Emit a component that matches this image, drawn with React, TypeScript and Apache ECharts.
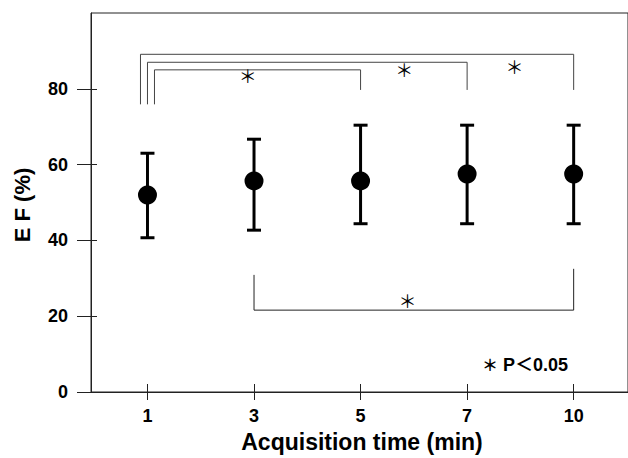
import React, { useEffect, useRef } from "react";
import * as echarts from "echarts";

// ---- data ----
const categories = ["1", "3", "5", "7", "10"];
const efMean = [52.0, 55.7, 55.7, 57.5, 57.5];
const efLow = [40.7, 42.7, 44.4, 44.4, 44.4];
const efHigh = [63.0, 66.7, 70.4, 70.4, 70.4];
const yTicks = [0, 20, 40, 60, 80];

// brackets: [fromIndex, toIndex, barY, leftEndY, rightEndY]
const topBrackets = [
  [0, 4, 89.1, 75.9, 79.7],
  [0, 3, 87.0, 75.9, 79.7],
  [0, 2, 85.0, 75.9, 79.7],
];
const bottomBrackets = [[1, 4, 21.6, 30.9, 32.5]];
// significance marks: [x position (category index units), y value]
const starMarks = [
  [0.94, 83.6],
  [2.41, 85.2],
  [3.445, 85.9],
  [2.44, 24.3],
];

const FONT = "'Liberation Sans', Arial, sans-serif";
const MIXED = "'Liberation Sans', 'Noto Sans CJK SC', sans-serif";
const CJK = "'Noto Sans CJK SC', 'Liberation Sans', sans-serif";

export default function App() {
  const ref = useRef<HTMLDivElement>(null);
  useEffect(() => {
    if (!ref.current) return;
    const chart = echarts.init(ref.current, null, { renderer: "svg" });
    const idx = categories.map((_, i) => i);
    const xCommon = {
      type: "value",
      min: -0.53,
      max: 4.51,
      splitLine: { show: false },
    };
    const yCommon = {
      type: "value",
      min: 0,
      max: 100,
      splitLine: { show: false },
    };
    const lineStyle = { color: "#222", width: 1 };
    const option: any = {
      animation: false,
      grid: {
        left: 91,
        top: 13,
        right: -5,
        bottom: 66,
        show: true,
        borderColor: "#222",
        borderWidth: 1,
      },
      xAxis: [
        {
          ...xCommon,
          axisLine: { show: true, onZero: false, lineStyle },
          axisTick: { show: true, customValues: idx, length: 8, lineStyle },
          axisLabel: {
            customValues: idx,
            formatter: (v: number) => categories[Math.round(v)] ?? "",
            fontFamily: FONT,
            fontWeight: "bold",
            fontSize: 18,
            color: "#000",
            margin: 15,
          },
        },
        {
          ...xCommon,
          position: "bottom",
          axisLine: { show: false, onZero: false },
          axisTick: { show: true, inside: true, customValues: idx, length: 8, lineStyle },
          axisLabel: { show: false },
        },
      ],
      yAxis: [
        {
          ...yCommon,
          axisLine: { show: true, onZero: false, lineStyle },
          axisTick: { show: true, customValues: yTicks, length: 14, lineStyle },
          axisLabel: {
            customValues: yTicks,
            fontFamily: FONT,
            fontWeight: "bold",
            fontSize: 18,
            color: "#000",
            margin: 23,
          },
        },
        {
          ...yCommon,
          position: "left",
          axisLine: { show: false, onZero: false },
          axisTick: { show: true, inside: true, customValues: yTicks, length: 6, lineStyle },
          axisLabel: { show: false },
        },
      ],
      series: [
        {
          type: "custom",
          xAxisIndex: 0,
          yAxisIndex: 0,
          z: 2,
          itemStyle: { color: "#000" },
          data: idx.map((i) => [i, efLow[i], efHigh[i]]),
          encode: { x: 0, y: [1, 2] },
          renderItem: (params: any, api: any) => {
            const x = api.value(0);
            const lo = api.coord([x, api.value(1)]);
            const hi = api.coord([x, api.value(2)]);
            const hw = 7;
            const st = { stroke: "#000", lineWidth: 3 };
            return {
              type: "group",
              children: [
                { type: "line", shape: { x1: lo[0], y1: lo[1], x2: hi[0], y2: hi[1] }, style: st },
                { type: "line", shape: { x1: lo[0] - hw, y1: lo[1], x2: lo[0] + hw, y2: lo[1] }, style: st },
                { type: "line", shape: { x1: hi[0] - hw, y1: hi[1], x2: hi[0] + hw, y2: hi[1] }, style: st },
              ],
            };
          },
        },
        {
          type: "scatter",
          xAxisIndex: 0,
          yAxisIndex: 0,
          z: 3,
          symbol: "circle",
          symbolSize: 19,
          itemStyle: { color: "#000", opacity: 1 },
          data: idx.map((i) => [i, efMean[i]]),
        },
        {
          type: "custom",
          xAxisIndex: 0,
          yAxisIndex: 0,
          z: 1,
          itemStyle: { color: "#444" },
          data: topBrackets,
          encode: { x: [0, 1], y: [2, 3, 4] },
          renderItem: (params: any, api: any) => {
            const shift = (params.dataIndex - 1) * 7;
            const a = api.coord([api.value(0), api.value(2)]);
            const b = api.coord([api.value(1), api.value(2)]);
            const l = api.coord([api.value(0), api.value(3)]);
            const r = api.coord([api.value(1), api.value(4)]);
            return {
              type: "polyline",
              shape: {
                points: [
                  [l[0] + shift, l[1]],
                  [a[0] + shift, a[1]],
                  [b[0], b[1]],
                  [r[0], r[1]],
                ],
              },
              style: { stroke: "#444", lineWidth: 1, fill: null },
            };
          },
        },
        {
          type: "custom",
          xAxisIndex: 0,
          yAxisIndex: 0,
          z: 1,
          itemStyle: { color: "#222" },
          data: bottomBrackets,
          encode: { x: [0, 1], y: [2, 3, 4] },
          renderItem: (params: any, api: any) => {
            const a = api.coord([api.value(0), api.value(2)]);
            const b = api.coord([api.value(1), api.value(2)]);
            const l = api.coord([api.value(0), api.value(3)]);
            const r = api.coord([api.value(1), api.value(4)]);
            return {
              type: "polyline",
              shape: { points: [[l[0], l[1]], [a[0], a[1]], [b[0], b[1]], [r[0], r[1]]] },
              style: { stroke: "#222", lineWidth: 1, fill: null },
            };
          },
        },
        {
          type: "custom",
          xAxisIndex: 0,
          yAxisIndex: 0,
          z: 4,
          itemStyle: { color: "#000" },
          data: starMarks,
          encode: { x: 0, y: 1 },
          renderItem: (params: any, api: any) => {
            const p = api.coord([api.value(0), api.value(1)]);
            return {
              type: "text",
              x: p[0],
              y: p[1],
              style: {
                text: "＊",
                fontFamily: CJK,
                fontSize: 18,
                fill: "#000",
                align: "center",
                verticalAlign: "middle",
              },
            };
          },
        },
      ],
      graphic: [
        {
          type: "text",
          x: 362,
          y: 442,
          style: {
            text: "Acquisition time (min)",
            fontFamily: FONT,
            fontWeight: "bold",
            fontSize: 23,
            fill: "#000",
            align: "center",
            verticalAlign: "middle",
          },
        },
        {
          type: "text",
          x: 22,
          y: 205,
          rotation: Math.PI / 2,
          style: {
            text: "E F (%)",
            fontFamily: FONT,
            fontWeight: "bold",
            fontSize: 22,
            fill: "#000",
            align: "center",
            verticalAlign: "middle",
          },
        },
        {
          type: "text",
          x: 490,
          y: 364,
          style: {
            text: "＊",
            fontFamily: CJK,
            fontWeight: "bold",
            fontSize: 16,
            fill: "#000",
            align: "center",
            verticalAlign: "middle",
          },
        },
        {
          type: "text",
          x: 503,
          y: 365,
          style: {
            text: "P＜0.05",
            fontFamily: MIXED,
            fontWeight: "bold",
            fontSize: 18,
            fill: "#000",
            verticalAlign: "middle",
          },
        },
      ],
    };
    chart.setOption(option);
    return () => chart.dispose();
  }, []);
  return (
    <div
      ref={ref}
      style={{ position: "absolute", left: 0, top: 0, width: 628, height: 458 }}
    />
  );
}
